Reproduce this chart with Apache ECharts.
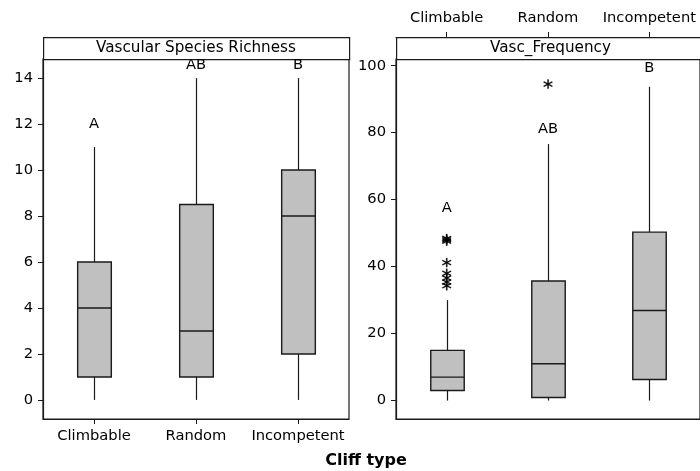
<!DOCTYPE html>
<html>
<head>
<meta charset="utf-8">
<script src="https://cdn.jsdelivr.net/npm/echarts@6/dist/echarts.min.js"></script>
<style>
  html, body { margin: 0; padding: 0; background: #fff; }
  #chart { width: 700px; height: 471px; }
</style>
</head>
<body>
<div id="chart"></div>
<script>
// Cliff types on the category axes
const categories = ['Climbable', 'Random', 'Incompetent'];

// Box summaries: [whisker low, Q1, median, Q3, whisker high]
const richnessBoxes = [
  [0, 1, 4, 6, 11],
  [0, 1, 3, 8.5, 14],
  [0, 2, 8, 10, 14]
];
const frequencyBoxes = [
  [0, 3, 7, 15, 30],
  [0, 0.9, 11, 35.7, 76.6],
  [0, 6.3, 26.9, 50.3, 93.7]
];

// Outliers for Vasc_Frequency: [category index, value]
const frequencyOutliers = [
  [0, 47.6], [0, 48], [0, 48.4], [0, 41.2], [0, 38],
  [0, 36.6], [0, 35.4], [0, 34.3], [1, 94.5]
];

// Significance-group letters and the height where each is written
const richnessLetters = ['A', 'AB', 'B'];
const richnessLetterY = [12, 14.55, 14.55];
const frequencyLetters = ['A', 'AB', 'B'];
const frequencyLetterY = [57.5, 81, 99.2];

// Tick labels
const richnessTicks = [0, 2, 4, 6, 8, 10, 12, 14];
const frequencyTicks = [0, 20, 40, 60, 80, 100];

const FONT = 'DejaVu Sans';
const INK = '#1a1a1a';
const FS = 14.7;

function renderBox(params, api) {
  const c = api.value(0);
  const pMin = api.coord([c, api.value(1)]);
  const pQ1 = api.coord([c, api.value(2)]);
  const pMed = api.coord([c, api.value(3)]);
  const pQ3 = api.coord([c, api.value(4)]);
  const pMax = api.coord([c, api.value(5)]);
  const half = api.size([1, 0])[0] * 0.165;
  const x = Math.round(pQ1[0]) + 0.5;
  return {
    type: 'group',
    children: [
      { type: 'line', shape: { x1: x, y1: pMin[1], x2: x, y2: pQ1[1] },
        style: { stroke: INK, lineWidth: 1.2 } },
      { type: 'line', shape: { x1: x, y1: pQ3[1], x2: x, y2: pMax[1] },
        style: { stroke: INK, lineWidth: 1.2 } },
      { type: 'rect', shape: { x: x - half, y: pQ3[1], width: 2 * half, height: pQ1[1] - pQ3[1] },
        style: { fill: '#c0c0c0', stroke: INK, lineWidth: 1.4 } },
      { type: 'line', shape: { x1: x - half, y1: pMed[1], x2: x + half, y2: pMed[1] },
        style: { stroke: INK, lineWidth: 1.4 } }
    ]
  };
}

const toBoxData = boxes => boxes.map((b, i) => [i].concat(b));
const toLetterData = (letters, ys) => letters.map((t, i) => ({ value: [i, ys[i]], name: t }));

// Six-armed asterisk used for outliers
const ASTERISK = 'path://M45,0L55,0L55,100L45,100Z' +
  'M4.2,29.3L89.3,78.3L94.3,69.7L9.2,20.7Z' +
  'M9.2,79.3L94.3,30.3L89.3,21.7L4.2,70.7Z';

const axisText = { color: '#000', fontFamily: FONT, fontSize: FS };

const grids = [
  { left: 43, top: 59, width: 306, height: 360 },
  { left: 396, top: 59, width: 309, height: 360 }
];

const letterSeries = (xi, letters, ys) => ({
  type: 'scatter', xAxisIndex: xi, yAxisIndex: xi, symbolSize: 1,
  itemStyle: { color: 'transparent', opacity: 1 },
  label: { show: true, position: 'inside', formatter: p => p.name, opacity: 1,
    color: '#000', fontFamily: FONT, fontSize: FS },
  data: toLetterData(letters, ys)
});

const option = {
  animation: false,
  backgroundColor: '#fff',
  grid: grids.map(g => Object.assign({ show: true, borderColor: INK, borderWidth: 1.2,
    backgroundColor: 'transparent' }, g)),
  xAxis: [
    { gridIndex: 0, type: 'category', data: categories, position: 'bottom',
      axisLine: { show: true, onZero: false, lineStyle: { color: INK, width: 1.2 } },
      axisTick: { show: true, alignWithLabel: true, length: 5, lineStyle: { color: INK } },
      axisLabel: Object.assign({ margin: 10, interval: 0 }, axisText), splitLine: { show: false } },
    { gridIndex: 1, type: 'category', data: categories, position: 'bottom',
      axisLine: { show: true, onZero: false, lineStyle: { color: INK, width: 1.2 } },
      axisTick: { show: false }, axisLabel: { show: false }, splitLine: { show: false } },
    { gridIndex: 1, type: 'category', data: categories, position: 'top', offset: 22,
      axisLine: { show: true, onZero: false, lineStyle: { color: INK, width: 1.2 } },
      axisTick: { show: true, alignWithLabel: true, length: 5, lineStyle: { color: INK } },
      axisLabel: Object.assign({ margin: 11, interval: 0 }, axisText), splitLine: { show: false } }
  ],
  yAxis: [
    { gridIndex: 0, type: 'value', min: -0.83, max: 14.83,
      axisLine: { show: true, onZero: false, lineStyle: { color: INK, width: 1.2 } },
      axisTick: { show: true, length: 5, customValues: richnessTicks, lineStyle: { color: INK } },
      axisLabel: Object.assign({ margin: 10, customValues: richnessTicks }, axisText),
      splitLine: { show: false } },
    { gridIndex: 1, type: 'value', min: -5.5, max: 102,
      axisLine: { show: true, onZero: false, lineStyle: { color: INK, width: 1.2 } },
      axisTick: { show: true, length: 5, customValues: frequencyTicks, lineStyle: { color: INK } },
      axisLabel: Object.assign({ margin: 10, customValues: frequencyTicks }, axisText),
      splitLine: { show: false } }
  ],
  graphic: [
    { type: 'rect', left: 43, top: 37, shape: { width: 306, height: 22 },
      style: { fill: '#fff', stroke: INK, lineWidth: 1.2 } },
    { type: 'text', x: 43 + 153, y: 48,
      style: { text: 'Vascular Species Richness', fontFamily: FONT, fontSize: 15.2, fill: '#000',
        textAlign: 'center', textVerticalAlign: 'middle' } },
    { type: 'rect', left: 396, top: 37, shape: { width: 309, height: 22 },
      style: { fill: '#fff', stroke: INK, lineWidth: 1.2 } },
    { type: 'text', x: 396 + 154.5, y: 48,
      style: { text: 'Vasc_Frequency', fontFamily: FONT, fontSize: 15.2, fill: '#000',
        textAlign: 'center', textVerticalAlign: 'middle' } },
    { type: 'text', x: 366, y: 461,
      style: { text: 'Cliff type', fontFamily: FONT, fontSize: 16, fontWeight: 'bold', fill: '#000',
        textAlign: 'center', textVerticalAlign: 'middle' } }
  ],
  series: [
    { type: 'custom', xAxisIndex: 0, yAxisIndex: 0, renderItem: renderBox,
      encode: { x: 0, y: [1, 2, 3, 4, 5] }, data: toBoxData(richnessBoxes) },
    { type: 'custom', xAxisIndex: 1, yAxisIndex: 1, renderItem: renderBox,
      encode: { x: 0, y: [1, 2, 3, 4, 5] }, data: toBoxData(frequencyBoxes) },
    { type: 'scatter', xAxisIndex: 1, yAxisIndex: 1, symbol: ASTERISK, symbolSize: 9,
      itemStyle: { color: '#000', opacity: 1, borderColor: '#000', borderWidth: 0.4 },
      data: frequencyOutliers },
    letterSeries(0, richnessLetters, richnessLetterY),
    letterSeries(1, frequencyLetters, frequencyLetterY)
  ]
};

const chart = echarts.init(document.getElementById('chart'), null, { renderer: 'canvas' });
chart.setOption(option);
</script>
</body>
</html>
